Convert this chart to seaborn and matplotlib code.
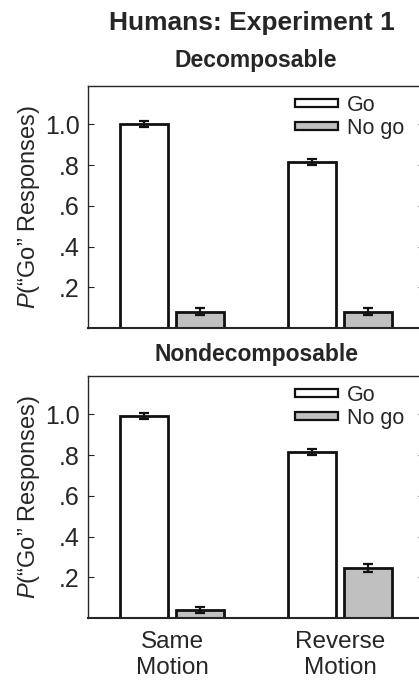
import numpy as np
import pandas as pd
import matplotlib
matplotlib.use("Agg")
import matplotlib.pyplot as plt
import seaborn as sns
from matplotlib.patches import Patch

# ── data ────────────────────────────────────────────────────────────────
conditions = ["Same\nMotion", "Reverse\nMotion"]
responses = ["Go", "No go"]
decomp_go = [1.00, 0.815]
decomp_nogo = [0.08, 0.08]
decomp_go_err = [0.015, 0.015]
decomp_nogo_err = [0.018, 0.018]
nondecomp_go = [0.99, 0.815]
nondecomp_nogo = [0.04, 0.245]
nondecomp_go_err = [0.015, 0.015]
nondecomp_nogo_err = [0.016, 0.018]

yticks = [0.2, 0.4, 0.6, 0.8, 1.0]
ytick_labels = [".2", ".4", ".6", ".8", "1.0"]

sns.set_style("ticks")
plt.rcParams['font.family'] = ['Liberation Sans', 'DejaVu Sans']
plt.rcParams['mathtext.fontset'] = 'custom'
plt.rcParams['mathtext.it'] = 'Liberation Sans:italic'

fig = plt.figure(figsize=(4.19, 6.81), dpi=100)
ax_top = fig.add_axes([0.21, 0.5184, 0.802, 0.3553])
ax_bot = fig.add_axes([0.21, 0.0925, 0.802, 0.3553])

colors = {"Go": "white", "No go": "#c0c0c0"}


def draw_panel(ax, go, nogo, go_err, nogo_err, title, title_pad, show_x):
    df = pd.DataFrame({
        "condition": conditions * 2,
        "response": [responses[0]] * 2 + [responses[1]] * 2,
        "value": go + nogo,
    })
    errs = {"Go": go_err, "No go": nogo_err}
    sns.barplot(data=df, x="condition", y="value", hue="response",
                order=conditions, hue_order=responses, palette=colors,
                width=0.667, gap=0.14, errorbar=None, edgecolor="#111111",
                linewidth=2.0, ax=ax, legend=False)
    for cont, resp in zip(ax.containers, responses):
        for bar, e in zip(cont, errs[resp]):
            xc = bar.get_x() + bar.get_width() / 2
            ax.errorbar(xc, bar.get_height(), yerr=e, fmt="none",
                        ecolor="#111111", elinewidth=1.6, capsize=3.5,
                        capthick=1.6, zorder=5)
    ax.set_xlim(-0.5, 1.5)
    ax.set_ylim(0, 1.188)
    ax.set_yticks(yticks)
    ax.set_yticklabels(ytick_labels, fontsize=18)
    ax.tick_params(axis="y", direction="in", length=4, width=0.8,
                   right=True, pad=6)
    ax.tick_params(axis="x", length=0, labelsize=17.5, pad=9)
    ax.set_xlabel("")
    ax.set_ylabel(r"$P$(“Go” Responses)", fontsize=17, labelpad=2)
    if show_x:
        for lbl in ax.get_xticklabels():
            lbl.set_linespacing(1.28)
    else:
        ax.set_xticklabels([])
    for s in ["left", "top", "right"]:
        ax.spines[s].set_linewidth(1.0)
    ax.spines["bottom"].set_linewidth(1.5)
    ax.set_title(title, fontsize=16.5, fontweight="bold", pad=title_pad)
    handles = [Patch(facecolor=colors[r], edgecolor="#111111", linewidth=1.6)
               for r in responses]
    ax.legend(handles, responses, loc="upper right",
              bbox_to_anchor=(0.966, 1.0), frameon=False, fontsize=15.5,
              handlelength=2.0, handleheight=0.2, handletextpad=0.4,
              labelspacing=0.12, borderaxespad=0.0)


draw_panel(ax_top, decomp_go, decomp_nogo, decomp_go_err, decomp_nogo_err,
           "Decomposable", 14, False)
draw_panel(ax_bot, nondecomp_go, nondecomp_nogo, nondecomp_go_err,
           nondecomp_nogo_err, "Nondecomposable", 11, True)

fig.text(0.6, 0.966, "Humans: Experiment 1", ha="center", va="center",
         fontsize=19, fontweight="bold")

fig.savefig("out.png", dpi=100)
